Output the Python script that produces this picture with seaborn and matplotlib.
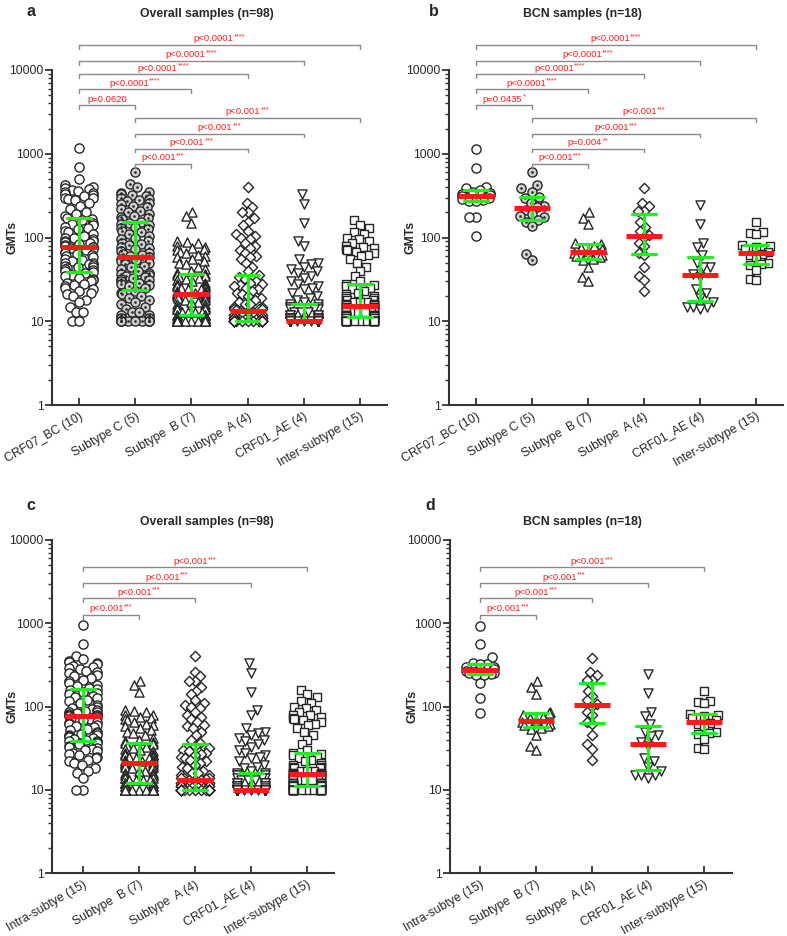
import warnings
import numpy as np
import pandas as pd
import matplotlib
matplotlib.use("Agg")
import matplotlib.pyplot as plt
import matplotlib.transforms as mtransforms
import seaborn as sns
from matplotlib.ticker import LogLocator, FixedLocator, FuncFormatter, NullFormatter

warnings.filterwarnings("ignore")

# ---- categories ----
cats_ab = ["CRF07_BC (10)", "Subtype C (5)", "Subtype  B (7)", "Subtype  A (4)",
           "CRF01_AE (4)", "Inter-subtype (15)"]
cats_cd = ["Intra-subtye (15)", "Subtype  B (7)", "Subtype  A (4)",
           "CRF01_AE (4)", "Inter-subtype (15)"]

# ---- GMTs, overall samples (n=98) ----
overall_crf07 = [1180, 700, 500, 420, 400, 390, 380, 370, 360, 350, 340, 330, 320, 310, 300,
                 300, 290, 280, 260, 240, 220, 200, 190, 180,
                 170, 165, 160, 150, 145, 140, 135, 130, 125, 120, 115, 110, 105, 100, 98,
                 95, 92, 90, 88, 86, 84, 82, 80, 78,
                 77, 75, 72, 70, 68, 66, 64, 62, 60, 58, 56, 54, 52, 50, 49, 48, 47, 46, 45,
                 44, 43, 42, 41, 40,
                 39, 38, 36, 35, 33, 32, 31, 30, 29, 28, 27, 26, 25, 24, 23, 22, 21, 20, 18,
                 17, 15, 13, 13, 10, 10]
overall_c = [600, 430, 400, 350, 340, 330, 320, 310, 300, 290, 280, 270, 260, 250, 240, 230,
             220, 210, 200, 190, 180, 175, 170, 165,
             155, 150, 145, 140, 135, 130, 125, 120, 115, 110, 105, 100, 95, 90, 87, 84, 81,
             78, 75, 72, 69, 66, 64, 62, 60,
             58, 56, 54, 52, 50, 48, 46, 44, 42, 40, 38, 37, 36, 35, 34, 33, 32, 31, 30, 29,
             28, 27, 26, 25,
             23, 22, 21, 20, 19, 18, 17, 16, 15, 14, 13, 13, 12, 12, 11, 11] + [10] * 9
overall_b = [200, 180, 150, 90, 88, 85, 80, 78, 75, 72, 70, 68, 65, 62, 60, 58, 55, 52, 50,
             48, 45, 42, 40, 38,
             37, 36, 35, 34, 33, 32, 31, 30, 29, 28, 27, 27, 26, 26, 25, 25, 24, 24, 23, 23,
             22, 22, 22, 21, 21,
             21, 20, 20, 19, 19, 18, 18, 17, 17, 16, 16, 15, 15, 15, 14, 14, 14, 13, 13, 13,
             13, 12, 12, 12,
             12, 12, 11, 11, 11, 11] + [10] * 19
overall_a = [400, 260, 230, 200, 200, 170, 155, 140, 120, 110, 105, 100, 95, 85, 80, 75, 70,
             65, 60, 58, 55, 50, 45, 40,
             36, 34, 32, 30, 29, 28, 27, 26, 25, 24, 23, 22, 21, 20, 19, 18, 17, 16, 16, 15,
             15, 14, 14, 14, 13.5,
             13, 13, 13, 12, 12, 12, 12, 11, 11, 11, 11, 11] + [10] * 37
overall_ae = [330, 250, 150, 90, 80, 55, 50, 48, 45, 42, 40, 38, 35, 33, 30, 28, 26, 25, 24,
              22, 20, 19, 18, 17,
              16, 16, 15, 15, 15, 14, 14, 14, 13, 13, 13, 12, 12, 12, 12, 11, 11, 11, 11, 11,
              10.5, 10.5] + [10] * 52
overall_inter = [160, 140, 130, 115, 110, 100, 95, 90, 85, 80, 78, 75, 72, 70, 68, 65, 62, 60,
                 55, 50, 45, 40, 35, 30,
                 28, 27, 26, 25, 24, 23, 22, 21, 20, 20, 19, 19, 18, 18, 17, 17, 17, 16, 16,
                 16, 16, 15.5, 15.5, 15.5, 15.5,
                 15, 15, 15, 14, 14, 14, 14, 13, 13, 13, 13, 13, 12, 12, 12, 12, 12, 12, 11.5,
                 11.5, 11.5, 11.5, 11.5, 11.5,
                 11, 11, 11, 11, 11] + [10] * 20
overall_intra = [950, 570, 400, 370, 350, 340, 330, 320, 310, 300, 290, 280, 270, 260, 250,
                 240, 230, 220, 210, 200, 190, 180, 175, 168,
                 162, 158, 150, 145, 140, 135, 130, 125, 120, 115, 110, 105, 100, 97, 94, 91,
                 89, 87, 85, 83, 81, 80, 79, 78, 77,
                 76, 74, 72, 70, 68, 66, 64, 62, 60, 58, 56, 54, 52, 50, 48, 47, 46, 45, 44,
                 43, 42, 41, 40, 39,
                 38, 37, 36, 35, 34, 33, 32, 31, 30, 29, 28, 27, 26, 25, 24, 23, 22, 21, 20,
                 18, 17, 16, 14, 10, 10]

# ---- GMTs, BCN samples (n=18) ----
bcn_crf07 = [1150, 680, 400, 390, 370, 350, 340, 330, 320, 310, 300, 290, 280, 275, 270,
             176, 176, 104]
bcn_c = [605, 422, 385, 350, 305, 300, 260, 240, 230, 215, 190, 180, 176, 160, 154, 138, 63, 54]
bcn_b = [202, 173, 143, 86, 84, 80, 75, 72, 69, 65, 62, 60, 59, 55, 54, 45, 34, 30]
bcn_a = [385, 260, 237, 208, 208, 154, 134, 119, 107, 100, 85, 79, 66, 62, 45, 35, 31, 23]
bcn_ae = [243, 144, 87, 76, 62, 50, 45, 44, 37, 34, 24, 22, 19, 17, 15, 15, 15, 14]
bcn_inter = [154, 115, 112, 110, 82, 79, 76, 72, 68, 64, 62, 56, 50, 48, 47, 41, 32, 31]
bcn_intra = [930, 570, 390, 330, 325, 320, 300, 295, 285, 265, 255, 250, 245, 242, 240,
             191, 126, 83]

# ---- comparisons ----
pairs_ab = [(0, 1), (0, 2), (0, 3), (0, 4), (0, 5), (1, 2), (1, 3), (1, 4), (1, 5)]
pairs_cd = [(0, 1), (0, 2), (0, 3), (0, 4)]
p_a = ["p=0.0620", "p<0.0001****", "p<0.0001****", "p<0.0001****", "p<0.0001****",
       "p<0.001***", "p<0.001***", "p<0.001***", "p<0.001***"]
p_b = ["p=0.0435*", "p<0.0001****", "p<0.0001****", "p<0.0001****", "p<0.0001****",
       "p<0.001***", "p=0.004**", "p<0.001***", "p<0.001***"]
p_c = ["p<0.001***"] * 4
p_d = ["p<0.001***"] * 4

# ---- style ----
sns.set_style("ticks")
plt.rcParams["font.family"] = ["Liberation Sans", "DejaVu Sans"]
RED = "#ff1a1a"
GREEN = "#22ee22"
EDGE = "#262626"
AXC = "#333333"
SQUEEZE = 0.62  # narrower swarms, points may overlap as in the original
marker_style = {
    "CRF07_BC (10)": ("o", 6.6, "white"),
    "Intra-subtye (15)": ("o", 6.6, "white"),
    "Subtype C (5)": ("o", 6.6, "#cfcfcf"),
    "Subtype  B (7)": ("^", 6.6, "white"),
    "Subtype  A (4)": ("D", 5.2, "white"),
    "CRF01_AE (4)": ("v", 6.6, "white"),
    "Inter-subtype (15)": ("s", 6.2, "white"),
}

W, H = 787, 936
fig = plt.figure(figsize=(W / 100, H / 100), dpi=100)


def add_ax(left, right, top, bottom):
    return fig.add_axes([left / W, 1 - bottom / H, (right - left) / W, (bottom - top) / H])


def p_label(ax, xmid, y, label):
    base = label.rstrip("*")
    n = len(label) - len(base)
    t = ax.annotate(base, xy=(xmid, y), xytext=(-n * 1.1, 1.2), textcoords="offset points",
                    color=RED, fontsize=6.8, ha="center", va="bottom", annotation_clip=False)
    if n:
        ax.annotate("*" * n, xy=(1, 1), xycoords=t, xytext=(0.2, 0.6),
                    textcoords="offset points", color=RED, fontsize=5.2,
                    ha="left", va="top", annotation_clip=False)


swarms = []   # (collection, category index, category)


def draw_panel(ax, cats, series, pairs, plabels, heights, xlim):
    df = pd.DataFrame({"group": np.repeat(cats, [len(s) for s in series]),
                       "gmt": np.concatenate([np.asarray(s, float) for s in series])})
    ax.set_yscale("log")
    for k, c in enumerate(cats):
        mk, sz, fc = marker_style[c]
        n_before = len(ax.collections)
        sns.swarmplot(data=df[df.group == c], x="group", y="gmt", order=cats, marker=mk,
                      size=sz, color=fc, edgecolor=EDGE, linewidth=1.0, ax=ax, zorder=2)
        for coll in ax.collections[n_before:]:
            swarms.append((coll, k, c))
    sns.pointplot(data=df, x="group", y="gmt", order=cats, estimator="median",
                  errorbar=("pi", 50), capsize=0.42, color=GREEN, marker="",
                  linestyle="none", err_kws={"linewidth": 2.3, "zorder": 4}, ax=ax)
    sns.pointplot(data=df, x="group", y="gmt", order=cats, estimator="median",
                  errorbar=None, color=RED, marker="_", markersize=26,
                  markeredgewidth=3.6, linestyle="none", ax=ax, zorder=5)

    ax.set_ylim(1, 10000)
    ax.set_xlim(*xlim)
    ax.yaxis.set_major_locator(FixedLocator([1, 10, 100, 1000, 10000]))
    ax.yaxis.set_major_formatter(FuncFormatter(lambda v, p: f"{v:g}"))
    ax.yaxis.set_minor_locator(LogLocator(base=10, subs=np.arange(2, 10)))
    ax.yaxis.set_minor_formatter(NullFormatter())
    ax.set_xlabel("")
    ax.set_ylabel("")
    ax.set_xticks(range(len(cats)))
    ax.set_xticklabels(cats, rotation=30, ha="right", rotation_mode="anchor", fontsize=8.8)
    shift = mtransforms.ScaledTranslation(3 / 100, 0, fig.dpi_scale_trans)
    for lab in ax.get_xticklabels():
        lab.set_transform(lab.get_transform() + shift)
    ax.tick_params(axis="y", which="major", length=5, width=1.3, color=AXC, labelsize=8.8,
                   pad=1)
    ax.tick_params(axis="y", which="minor", length=3, width=1.0, color=AXC)
    ax.tick_params(axis="x", direction="in", length=5, width=1.3, color=AXC, pad=4)
    sns.despine(ax=ax)
    for s in ("left", "bottom"):
        ax.spines[s].set_linewidth(1.5)
        ax.spines[s].set_color(AXC)

    drop = 10 ** -0.045
    for (i, j), lab, h in zip(pairs, plabels, heights):
        y = 10 ** h
        ax.plot([i, i, j, j], [y * drop, y, y, y * drop], color="#8a8a8a", lw=1.0,
                clip_on=False, zorder=3)
        p_label(ax, (i + j) / 2, y, lab)


heights_ab = [3.58, 3.77, 3.95, 4.11, 4.30, 2.88, 3.06, 3.24, 3.43]
heights_cd = [3.10, 3.30, 3.48, 3.67]

ax_a = add_ax(52, 387, 70, 405)
ax_b = add_ax(449, 783, 70, 405)
ax_c = add_ax(52, 334, 540, 873)
ax_d = add_ax(450, 732, 540, 873)

draw_panel(ax_a, cats_ab, [overall_crf07, overall_c, overall_b, overall_a, overall_ae,
                           overall_inter], pairs_ab, p_a, heights_ab, (-0.48, 5.48))
draw_panel(ax_b, cats_ab, [bcn_crf07, bcn_c, bcn_b, bcn_a, bcn_ae, bcn_inter],
           pairs_ab, p_b, heights_ab, (-0.48, 5.48))
draw_panel(ax_c, cats_cd, [overall_intra, overall_b, overall_a, overall_ae, overall_inter],
           pairs_cd, p_c, heights_cd, (-0.55, 4.48))
draw_panel(ax_d, cats_cd, [bcn_intra, bcn_b, bcn_a, bcn_ae, bcn_inter],
           pairs_cd, p_d, heights_cd, (-0.54, 4.50))

# seaborn lays the swarms out at draw time: draw once, then redraw each swarm narrower
fig.canvas.draw()
for coll, k, c in swarms:
    offs = np.array(coll.get_offsets())
    ax = coll.axes
    mk, sz, fc = marker_style[c]
    x = k + (offs[:, 0] - k) * SQUEEZE
    coll.remove()
    ax.scatter(x, offs[:, 1], marker=mk, s=sz ** 2, facecolors=fc, edgecolors=EDGE,
               linewidths=1.0, zorder=2)
    if c == "Subtype C (5)":
        ax.scatter(x, offs[:, 1], s=3.5, color=EDGE, zorder=2.5, linewidths=0)

# titles, panel letters, axis labels
for x, y, t in [(207, 14, "Overall samples (n=98)"), (582, 14, "BCN samples (n=18)"),
                (207, 522, "Overall samples (n=98)"), (582, 522, "BCN samples (n=18)")]:
    fig.text(x / W, 1 - y / H, t, ha="center", va="center", fontsize=8.8, fontweight="bold")
for x, y, t in [(31, 12, "a"), (434, 12, "b"), (31, 505, "c"), (430, 505, "d")]:
    fig.text(x / W, 1 - y / H, t, ha="center", va="center", fontsize=11.5, fontweight="bold")
for x, y in [(12, 237), (411, 237), (12, 706), (413, 706)]:
    fig.text(x / W, 1 - y / H, "GMTs", ha="center", va="center", rotation=90,
             fontsize=8.8, fontweight="bold")

fig.savefig("out.png", dpi=100)
